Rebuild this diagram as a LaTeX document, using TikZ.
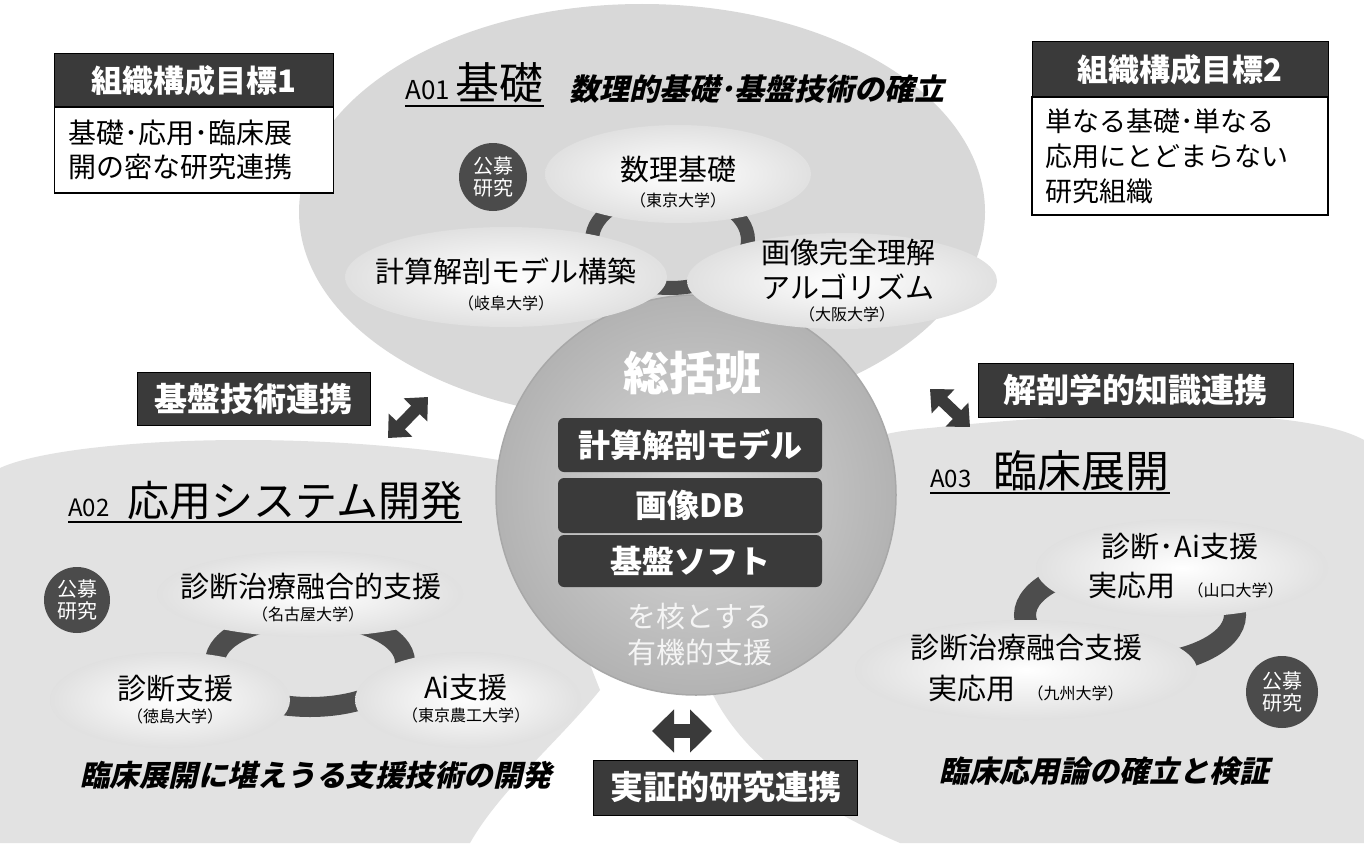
\documentclass[tikz,border=0pt]{standalone}
\usepackage{fontspec}
\newfontfamily\jp{Noto Sans CJK JP}
\newfontfamily\jpit[FakeSlant=0.22]{Noto Sans CJK JP}
\usetikzlibrary{arrows.meta,shapes.geometric}
\definecolor{dk}{HTML}{3A3A3A}
\definecolor{blobc}{HTML}{D8D8D8}
\definecolor{blobl}{HTML}{E2E2E2}
\definecolor{ringc}{HTML}{4D4D4D}
\newcommand\fsz[2]{\fontsize{#1}{#2}\selectfont}
\tikzset{
 hdr/.style={fill=dk, draw=black, line width=1pt, text=white, font=\jp\bfseries\fsz{31}{31}, inner sep=0pt},
 bodybox/.style={draw=black, line width=1.5pt, fill=white, align=left, inner sep=0pt},
 lnk/.style={fill=dk, draw=black, line width=0.8pt, text=white, font=\jp\bfseries\fsz{33}{33}, inner sep=0pt},
 uell/.style={ellipse, inner sep=0pt, shading=radial, inner color=white, outer color=gray!24},
 elbl/.style={align=center, inner sep=0pt, font=\jp\fsz{29}{35}},
 slbl/.style={inner sep=0pt, font=\jp\fsz{16}{16}},
 kobo/.style={circle, fill=gray!25!dk, minimum size=68pt, inner sep=0pt, text=white, align=center, font=\jp\fsz{20}{22}},
 ringline/.style={draw=ringc, line width=16pt},
 barbox/.style={fill=dk, rounded corners=6pt, minimum width=264pt, text=white, font=\jp\bfseries\fsz{32}{32}, inner sep=0pt},
 dbl/.style={draw=dk, line width=12pt, {Triangle[length=18pt,width=32pt]}-{Triangle[length=18pt,width=32pt]}},
 ttl/.style={anchor=base west, inner sep=0pt, font=\jp},
 itl/.style={anchor=base west, inner sep=0pt, font=\jpit\bfseries\fsz{30}{30}},
 uline/.style={line width=2pt, draw=black},
}
\begin{document}
\begin{tikzpicture}[x=1pt,y=-1pt]
\useasboundingbox (0,0) rectangle (1364,843);
\fill[white] (0,0) rectangle (1364,843);
% regions
\fill[blobl] (0,468) .. controls (60,440) and (300,425) .. (510,462) -- (600,690) .. controls (560,740) and (500,790) .. (470,843) -- (0,843) -- cycle;
\fill[blobl] (900,843) .. controls (800,800) and (720,740) .. (700,660) -- (800,480) .. controls (850,440) and (880,432) .. (930,428) .. controls (1100,410) and (1300,405) .. (1364,440) -- (1364,843) -- cycle;
\fill[blobc] (642,212) ellipse [x radius=343, y radius=208];
% central circle
\node[circle, minimum size=400pt, inner sep=0pt, shading=radial, inner color=gray!30, outer color=gray!60, draw=gray!68, line width=1.5pt] (core) at (696,495) {};
% rings
\draw[ringline, line width=14pt] (670,240) ellipse [x radius=78, y radius=48];
\draw[ringline, line width=20pt] (310,662) ellipse [x radius=95, y radius=45];
\draw[ringline, line width=22pt] (1130,615) ellipse [x radius=105, y radius=50];
% goal boxes
\node[hdr, minimum width=279pt, minimum height=53pt] (g1h) at (194,80.5) {組織構成目標1};
\node[bodybox, minimum width=279pt, minimum height=86pt, text width=252pt, font=\jp\fsz{28}{34}] (g1b) at (194,150) {基礎･応用･臨床展\\開の密な研究連携};
\node[hdr, minimum width=296pt, minimum height=55pt] (g2h) at (1180,69.5) {組織構成目標2};
\node[bodybox, minimum width=296pt, minimum height=118pt, text width=270pt, font=\jp\fsz{27}{35}] (g2b) at (1180,156) {単なる基礎･単なる\\応用にとどまらない\\研究組織};
% A01
\node[ttl] (a01) at (405,99) {{\fsz{26}{26}A01}\hspace{6pt}{\fsz{44}{44}基礎}};
\draw[uline] ([yshift=-7pt]a01.base west) -- ([yshift=-7pt]a01.base east);
\node[itl] (a01s) at (569,100) {数理的基礎･基盤技術の確立};
\node[uell, minimum width=266pt, minimum height=98pt] (e11) at (678,174) {};
\node[uell, minimum width=322pt, minimum height=100pt] (e12) at (506,277) {};
\node[uell, minimum width=310pt, minimum height=96pt] (e13) at (842,281) {};
\node[elbl] (t11) at (678,170) {数理基礎};
\node[slbl] (u11) at (678,200) {（東京大学）};
\node[elbl] (t12) at (506,271) {計算解剖モデル構築};
\node[slbl] (u12) at (506,303) {（岐阜大学）};
\node[elbl] (t13) at (848,269) {画像完全理解\\アルゴリズム};
\node[slbl] (u13) at (847,314) {（大阪大学）};
\node[kobo] (k1) at (493,177) {公募\\研究};
% central
\node[text=white, inner sep=0pt, font=\jp\bfseries\fsz{46}{46}] (sk) at (692,373) {総括班};
\node[barbox, minimum height=54pt] (b1) at (690,445) {計算解剖モデル};
\node[barbox, minimum height=55pt] (b2) at (690,505.5) {画像DB};
\node[barbox, minimum height=52pt] (b3) at (690,561) {基盤ソフト};
\node[text=white!92!gray, inner sep=0pt, align=center, font=\jp\fsz{29}{36}] (sk2) at (700,635) {を核とする\\有機的支援};
% A02
\node[ttl] (a02) at (68,516) {{\fsz{24}{24}A02}\hspace{18pt}{\fsz{42}{42}応用システム開発}};
\draw[uline] ([yshift=-6pt]a02.base west) -- ([yshift=-6pt]a02.base east);
\node[uell, minimum width=306pt, minimum height=86pt] (e21) at (310,594) {};
\node[uell, minimum width=240pt, minimum height=96pt] (e22) at (170,700) {};
\node[uell, minimum width=226pt, minimum height=96pt] (e23) at (468,700) {};
\node[elbl] (t21) at (311,587) {診断治療融合的支援};
\node[slbl] (u21) at (308,614) {（名古屋大学）};
\node[elbl] (t22) at (175,689) {診断支援};
\node[slbl] (u22) at (175,716) {（徳島大学）};
\node[elbl] (t23) at (466,688) {Ai支援};
\node[slbl] (u23) at (466,715) {（東京農工大学）};
\node[kobo, minimum size=66pt] (k2) at (77,600) {公募\\研究};
\node[itl, font=\jpit\bfseries\fsz{29.5}{29.5}] (a02s) at (80,786) {臨床展開に堪えうる支援技術の開発};
% A03
\node[ttl] (a03) at (930,487) {{\fsz{24}{24}A03}\hspace{22pt}{\fsz{44}{44}臨床展開}};
\draw[uline] ([yshift=-6pt]a03.base west) -- ([yshift=-6pt]a03.base east);
\node[uell, minimum width=292pt, minimum height=98pt] (e31) at (1182,568) {};
\node[uell, minimum width=342pt, minimum height=100pt] (e32) at (1026,670) {};
\node[elbl] (t31) at (1180,547) {診断･Ai支援};
\node[inner sep=0pt, anchor=base, font=\jp] (t31b) at (1186,596) {{\fsz{29}{29}実応用}\hspace{12pt}{\fsz{16}{16}（山口大学）}};
\node[elbl] (t32) at (1026,648) {診断治療融合支援};
\node[inner sep=0pt, anchor=base, font=\jp] (t32b) at (1026,699) {{\fsz{29}{29}実応用}\hspace{12pt}{\fsz{16}{16}（九州大学）}};
\node[kobo, minimum size=72pt] (k3) at (1282,692) {公募\\研究};
\node[itl] (a03s) at (939,782) {臨床応用論の確立と検証};
% links
\node[lnk, minimum width=233pt, minimum height=53pt] (l1) at (253.5,398.5) {基盤技術連携};
\node[lnk, minimum width=315pt, minimum height=54pt] (l2) at (1135.5,390) {解剖学的知識連携};
\node[lnk, minimum width=264pt, minimum height=55pt] (l3) at (725.5,787.5) {実証的研究連携};
\coordinate (p1a) at (388,438); \coordinate (p1b) at (428,397);
\coordinate (p2a) at (930,389); \coordinate (p2b) at (970,427);
\coordinate (p3a) at (652,731); \coordinate (p3b) at (712,731);
\draw[dbl] (p1a) -- (p1b);
\draw[dbl] (p2a) -- (p2b);
\draw[dbl, line width=14pt, {Triangle[length=22pt,width=42pt]}-{Triangle[length=22pt,width=42pt]}] (p3a) -- (p3b);
\end{tikzpicture}
\end{document}
